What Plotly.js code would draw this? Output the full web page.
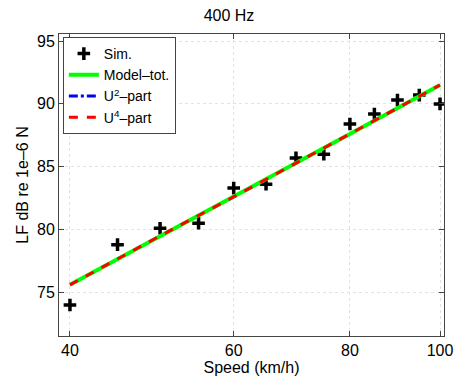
<!DOCTYPE html>
<html><head><meta charset="utf-8">
<script src="https://cdn.plot.ly/plotly-3.0.1.min.js"></script>
<style>html,body{margin:0;padding:0;background:#fff}#chart{width:458px;height:378px}</style>
</head><body><div id="chart"></div>
<script>
var speeds = [40,45,50,55,60,65,70,75,80,85,90,95,100];
var simLF  = [74.0,78.8,80.1,80.5,83.3,83.6,85.7,86.0,88.4,89.2,90.3,90.7,90.0];
var modelSpeeds = [40,50,60,70,80,90,100];
var modelTot = [75.6,79.5,82.6,85.3,87.6,89.7,91.5];
var u2Part = [60.0,62.0,63.6,64.9,66.1,67.1,68.0];
var u4Part = [75.6,79.5,82.6,85.3,87.6,89.7,91.5];
var xTicks = [40,60,80,100];
var yTicks = [75,80,85,90,95];

var font = {family:'Liberation Sans, Arial, sans-serif', size:16, color:'#000'};
var traces = [
 {x:speeds, y:simLF, mode:'markers', name:'Sim.', type:'scatter',
  marker:{symbol:'cross-thin-open', size:9, color:'#000', line:{width:3.5,color:'#000'}}},
 {x:modelSpeeds, y:modelTot, mode:'lines', name:'Model\u2013tot.', line:{color:'#00ff00', width:4}},
 {x:modelSpeeds, y:u2Part, mode:'lines', name:'U<sup>2</sup>\u2013part', line:{color:'#0000ff', width:3, dash:'dashdot'}},
 {x:modelSpeeds, y:u4Part, mode:'lines', name:'U<sup>4</sup>\u2013part', line:{color:'#ff0000', width:3, dash:'dash'}}
];
var axisCommon = {showline:true, linecolor:'#444', linewidth:1, mirror:'ticks', ticks:'inside', ticklen:5, tickcolor:'#444',
  showgrid:true, gridcolor:'#e2e2e2', griddash:'dot', gridwidth:1, zeroline:false, tickfont:font};
var layout = {
 width:458, height:378, margin:{l:59, r:14, t:34, b:42},
 paper_bgcolor:'#fff', plot_bgcolor:'#fff', font:font, showlegend:true,
 title:{text:'400 Hz', font:font, x:0.5, xanchor:'center', y:0.96, yanchor:'middle'},
 xaxis:Object.assign({}, axisCommon, {type:'log', range:[Math.log10(38.93), Math.log10(100.99)], tickmode:'array', tickvals:xTicks, ticktext:xTicks.map(String),
   title:{text:'Speed (km/h)', font:font, standoff:0}}),
 yaxis:Object.assign({}, axisCommon, {range:[71.53, 95.56], tickmode:'array', tickvals:yTicks, ticktext:yTicks.map(String),
   title:{text:'LF dB re 1e\u20136 N', font:font, standoff:4}}),
 legend:{x:0.01, y:0.99, xanchor:'left', yanchor:'top', bgcolor:'#fff', bordercolor:'#444', borderwidth:1,
   font:{family:font.family, size:14, color:'#000'}, tracegroupgap:0}
};
Plotly.newPlot('chart', traces, layout, {staticPlot:true, displayModeBar:false});
</script></body></html>
